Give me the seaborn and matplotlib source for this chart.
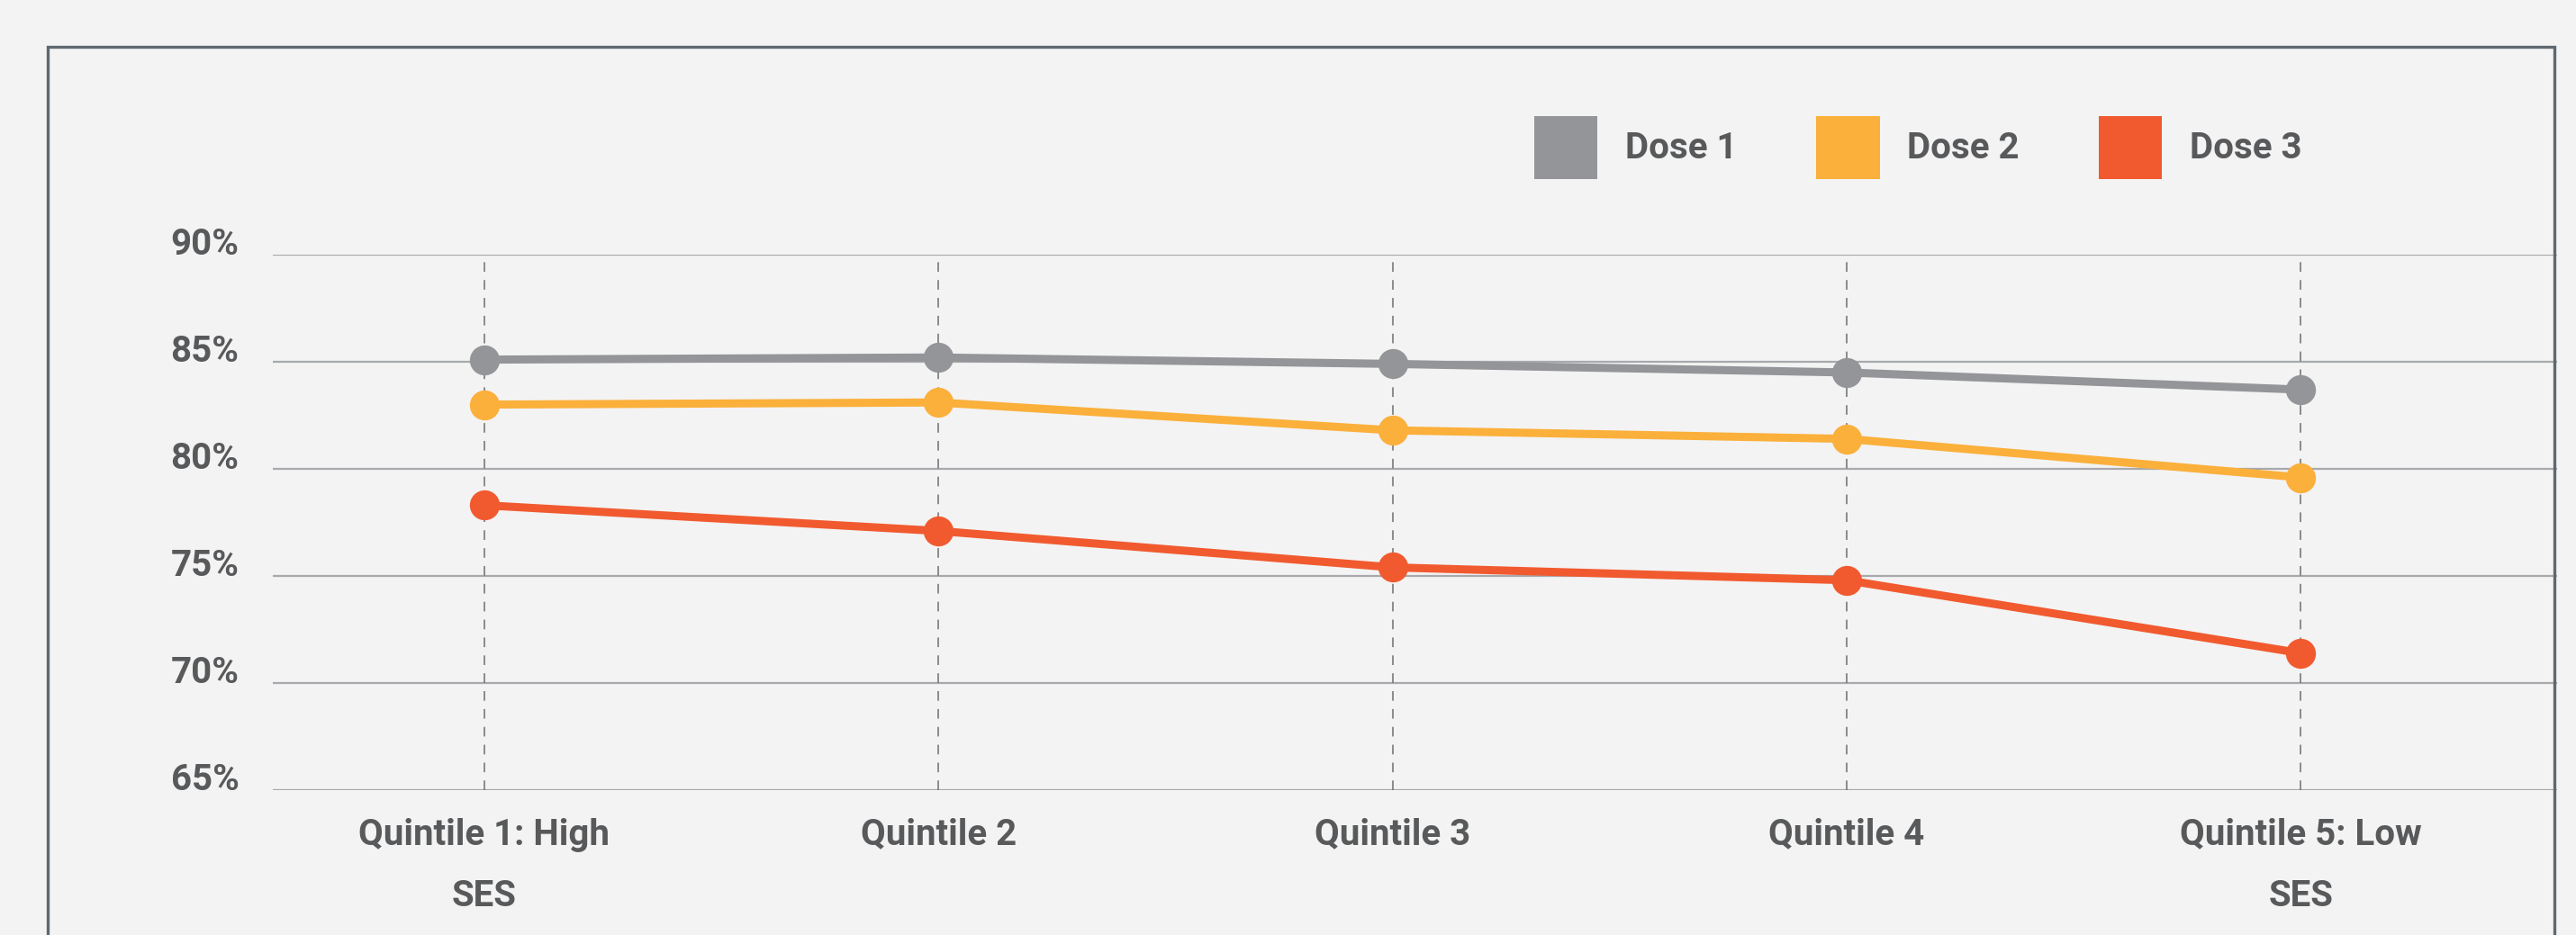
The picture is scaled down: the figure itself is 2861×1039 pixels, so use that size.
import numpy as np
import pandas as pd
import seaborn as sns
import matplotlib.pyplot as plt
from matplotlib.patches import Patch, Rectangle

# -------------------------
# data
# -------------------------
categories = ['Quintile 1: High\nSES', 'Quintile 2', 'Quintile 3', 'Quintile 4', 'Quintile 5: Low\nSES']
dose1 = [85.1, 85.2, 84.9, 84.5, 83.7]
dose2 = [83.0, 83.1, 81.8, 81.4, 79.6]
dose3 = [78.3, 77.1, 75.4, 74.8, 71.4]
series_names = ['Dose 1', 'Dose 2', 'Dose 3']
y_ticks = [65, 70, 75, 80, 85, 90]

colors = ['#939598', '#fbb03b', '#f15a2f']
bg = '#f3f3f3'
text_col = '#58595b'
W, H = 2861, 1039

df = pd.DataFrame({
    'quintile': categories * 3,
    'pos': list(range(len(categories))) * 3,
    'value': dose1 + dose2 + dose3,
    'dose': [s for s in series_names for _ in categories],
})

sns.set_theme(style='white')
plt.rcParams['font.family'] = ['Roboto', 'DejaVu Sans']
plt.rcParams['font.weight'] = 'bold'

fig = plt.figure(figsize=(W / 100, H / 100), dpi=100, facecolor=bg)
ax = fig.add_axes([303 / W, 1 - 878 / H, (2840 - 303) / W, (878 - 283) / H])
ax.set_facecolor(bg)

# dashed vertical guides at each category
ax.vlines(range(len(categories)), y_ticks[0], y_ticks[-1], colors='#6d6e71',
          linewidth=1.1, linestyles=(0, (7, 6)), zorder=1)

sns.lineplot(data=df, x='pos', y='value', hue='dose', palette=colors,
             marker='o', markersize=24, markeredgewidth=0, linewidth=6.5,
             sort=False, legend=False, ax=ax, zorder=3)

ax.set_ylim(y_ticks[0], y_ticks[-1])
ax.set_xlim(-0.466, len(categories) - 1 + 0.565)
ax.set_yticks(y_ticks)
ax.set_yticklabels([f'{v}%' for v in y_ticks])
ax.set_xticks(range(len(categories)))
ax.set_xticklabels(categories, linespacing=2.0)
for t in ax.get_yticklabels():
    t.set_va('baseline')
ax.tick_params(axis='both', length=0, labelsize=29, labelcolor=text_col)
ax.tick_params(axis='y', pad=27)
ax.tick_params(axis='x', pad=22)
ax.yaxis.grid(True, color='#a7a9ac', linewidth=1.6, zorder=0)
ax.xaxis.grid(False)
ax.set_axisbelow(True)
ax.set_xlabel('')
ax.set_ylabel('')
for s in ax.spines.values():
    s.set_visible(False)

# legend with square swatches
handles = [Patch(facecolor=c, edgecolor='none') for c in colors]
fig.legend(handles, series_names, loc='center left',
           bbox_to_anchor=(1704 / W, 1 - 164 / H), bbox_transform=fig.transFigure,
           ncol=3, frameon=False, fontsize=29, labelcolor=text_col,
           handlelength=1.75, handleheight=2.3, handletextpad=0.76,
           columnspacing=2.18, borderpad=0, borderaxespad=0)

# outer frame (open at the bottom)
fig.add_artist(Rectangle((53 / W, -0.1), (2837 - 53) / W, (1039 - 52) / H + 0.1,
                         transform=fig.transFigure, fill=False,
                         edgecolor='#5e6870', linewidth=2.4))

fig.savefig('out.png', dpi=100, facecolor=bg)
